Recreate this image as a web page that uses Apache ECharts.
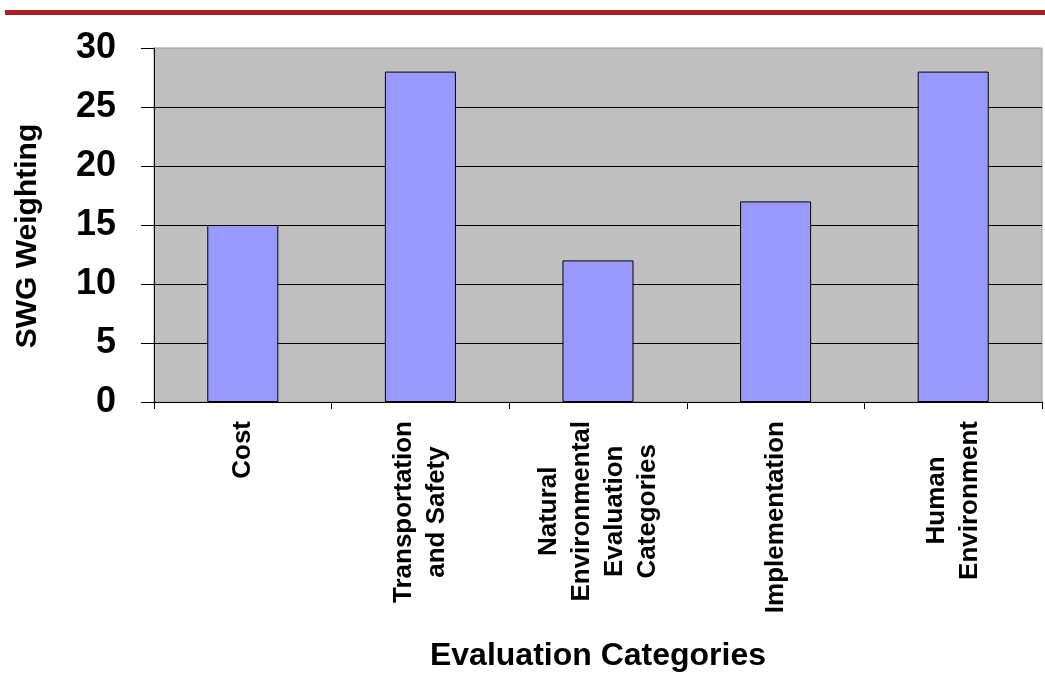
<!DOCTYPE html>
<html>
<head>
<meta charset="utf-8">
<script src="https://cdn.jsdelivr.net/npm/echarts@6/dist/echarts.min.js"></script>
<style>
  html, body { margin: 0; padding: 0; background: #ffffff; }
  #chart { width: 1045px; height: 673px; }
</style>
</head>
<body>
<div id="chart"></div>
<script>
// Evaluation categories (line breaks as shown under the axis)
const categories = [
  'Cost',
  'Transportation\nand Safety',
  'Natural\nEnvironmental\nEvaluation\nCategories',
  'Implementation',
  'Human\nEnvironment'
];
// SWG weighting per category
const weights = [15, 28, 12, 17, 28];
// Value axis tick range
const yMin = 0;
const yMax = 30;
const yStep = 5;

const FONT = '"Liberation Sans", Arial, sans-serif';

const chart = echarts.init(document.getElementById('chart'), null, { renderer: 'canvas' });

chart.setOption({
  backgroundColor: '#ffffff',
  animation: false,
  graphic: [
    { type: 'rect', shape: { x: 5, y: 10, width: 1040, height: 5 }, style: { fill: '#ab1f25' } }
  ],
  grid: {
    left: 154, right: 3, top: 48, bottom: 271,
    show: true, backgroundColor: '#c0c0c0', borderColor: '#9a9a9a', borderWidth: 1,
    containLabel: false,
    outerBoundsMode: 'none'
  },
  xAxis: {
    type: 'category',
    data: categories,
    boundaryGap: true,
    axisLine: { show: true, lineStyle: { color: '#000', width: 1 } },
    axisTick: { show: true, alignWithLabel: false, length: 7, lineStyle: { color: '#000' } },
    axisLabel: {
      interval: 0,
      rotate: 90,
      margin: 19,
      formatter: function (v) {
        return v.split('\n').map(function (s) { return '{c|' + s + '}'; }).join('\n');
      },
      rich: {
        c: { align: 'center', fontFamily: FONT, fontWeight: 'bold', fontSize: 26, lineHeight: 33, color: '#000' }
      }
    },
    name: 'Evaluation Categories',
    nameLocation: 'middle',
    nameGap: 238,
    nameTextStyle: { fontFamily: FONT, fontWeight: 'bold', fontSize: 32, color: '#000' }
  },
  yAxis: {
    type: 'value',
    min: yMin, max: yMax, interval: yStep,
    axisLine: { show: true, lineStyle: { color: '#000', width: 1 } },
    axisTick: { show: true, length: 13, lineStyle: { color: '#000' } },
    axisLabel: { margin: 38, fontFamily: FONT, fontWeight: 'bold', fontSize: 36, color: '#000' },
    splitLine: { show: true, showMaxLine: false, lineStyle: { color: '#000', width: 1 } },
    name: 'SWG Weighting',
    nameLocation: 'middle',
    nameRotate: 90,
    nameGap: 111,
    nameTextStyle: { fontFamily: FONT, fontWeight: 'bold', fontSize: 30, color: '#000', padding: [0, 22, 0, 0] }
  },
  series: [{
    type: 'bar',
    data: weights,
    barWidth: '40%',
    itemStyle: { color: '#9999ff', borderColor: '#000', borderWidth: 1 }
  }]
});
</script>
</body>
</html>
